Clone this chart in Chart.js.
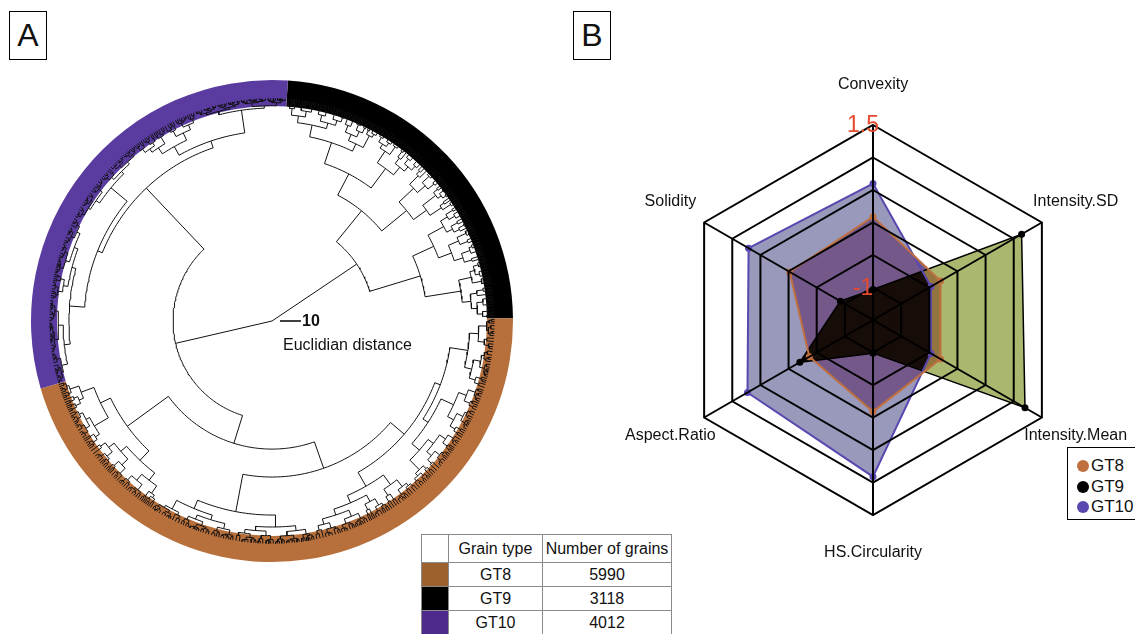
<!DOCTYPE html>
<html>
<head>
<meta charset="utf-8">
<title>Grain types: dendrogram and radar profile</title>
<script src="https://cdn.jsdelivr.net/npm/chart.js@4.4.0/dist/chart.umd.min.js"></script>
<style>
  html, body { margin: 0; padding: 0; background: #fff; width: 1135px; height: 634px; overflow: hidden;
    font-family: "Liberation Sans", Arial, Helvetica, sans-serif; color: #111; }
  canvas { position: absolute; }
  .tag { position: absolute; box-sizing: border-box; border: 1.5px solid #000; width: 38px; height: 49px;
    font-size: 32px; line-height: 46px; text-align: center; background: #fff; }
  .note { position: absolute; font-size: 16px; line-height: 18px; white-space: nowrap; }
  #counts { position: absolute; left: 421px; top: 534px; border-collapse: collapse; font-size: 16px; background: #fff; }
  #counts td { border: 1px solid #8a8a8a; text-align: center; padding: 0; height: 23px; line-height: 22px; }
  #counts tr:first-child td { height: 27px; }
  #legend { position: absolute; left: 1067px; top: 447px; width: 90px; height: 73px; box-sizing: border-box;
    border: 1px solid #000; background: #fff; padding-top: 8px; font-size: 17px; }
  #legend div { height: 20.5px; line-height: 20.5px; white-space: nowrap; }
  #legend span.dot { display: inline-block; width: 12px; height: 12px; border-radius: 50%; margin: 0 2px 0 9px;
    vertical-align: -1px; }
</style>
</head>
<body>
<canvas id="ring" width="500" height="500" style="left:22px;top:71px"></canvas>
<canvas id="tree" width="500" height="500" style="left:22px;top:71px"></canvas>
<canvas id="radar" width="535" height="634" style="left:600px;top:0px"></canvas>
<div class="tag" style="left:9px;top:11px">A</div>
<div class="tag" style="left:573px;top:11px">B</div>
<div class="note" style="left:302px;top:312px;font-weight:bold">10</div>
<div class="note" style="left:283px;top:336px">Euclidian distance</div>
<table id="counts"></table>
<div id="legend"></div>
<script>
// ---- grain type summary ----
const grainTypes  = ['GT8', 'GT9', 'GT10'];
const grainCounts = [5990, 3118, 4012];

// ---- radar profile (standardised feature means) ----
const featureNames = ['Convexity', 'Intensity.SD', 'Intensity.Mean', 'HS.Circularity', 'Aspect.Ratio', 'Solidity'];
const gt8Profile  = [0.09, -0.30, -0.30, -0.09, -0.37, -0.02];
const gt9Profile  = [-1.03, 1.14, 1.20, -0.99, -0.20, -0.92];
const gt10Profile = [0.60, -0.47, -0.47, 0.91, 0.73, 0.71];
const radarMin = -1.5, radarMax = 1.5, radarStep = 0.5;
const radarValueLabels = [1.5, -1];

// ---- dendrogram (Euclidean distance from root; terminal clusters = [distance, leaf count]) ----
const gt9Tree = [48.6,
  [67.6,
    [79.0,
      [89.5, [95.2, 583], [93.3, 364]],
      [90.5, [97.1, 255], [95.2, 255]]],
    [82.9, [92.4, 255], [90.5, 255]]],
  [73.8,
    [84.8, [93.3, 255], [91.4, 328]],
    [91.0, [97.1, 255], [95.2, 313]]]];
const gt8Tree = [61.0,
  [74.3,
    [82.9,
      [85.7, [94.3, 672], [88.6, [95.2, 510], [93.3, 620]]],
      [90.5, [96.2, 328], [94.3, 765]]],
    [92.4, [98.1, 765], [96.7, 838]]],
  [85.2, [91.4, 802], [90.5, 690]]];
const gt10Tree = [87.1,
  [89.5,
    [96.7, [99.5, 802], [98.6, 802]],
    [99.5, [101.5, 437], [101.0, 438]]],
  [90.5,
    [95.2, [98.6, 328], [99.0, 328]],
    [101.4, [103.0, 438], [102.5, 439]]]];
const rootSplits = [0, 47.1];        // root and the GT8+GT10 branch point
const leafDistance = 106;            // tree height
const scaleBarLength = 10;

// ---- colours ----
const ringColors   = { GT8: '#b7703c', GT9: '#000000', GT10: '#5a3ca0' };
const swatchColors = { GT8: '#9c612c', GT9: '#000000', GT10: '#4d2a8c' };
const lineColors   = { GT8: '#c0703f', GT9: '#000000', GT10: '#5a48b0' };
const fillColors   = { GT8: 'rgb(116,88,138)', GT9: 'rgb(169,184,110)', GT10: 'rgb(153,153,188)' };
const overlapDark  = 'rgb(22,12,8)';
const overlapBrown = 'rgb(146,116,62)';
const valueRed     = '#e64a2e';

Chart.defaults.font.family = '"Liberation Sans", Arial, Helvetica, sans-serif';

// ---------- panel A: coloured ring of grain types ----------
const ringOrder = ['GT9', 'GT8', 'GT10'];          // clockwise leaf order
const totalLeaves = grainCounts.reduce((a, b) => a + b, 0);
const ringStart = 3.8;                             // degrees clockwise from the top

new Chart(document.getElementById('ring'), {
  type: 'doughnut',
  data: {
    labels: ringOrder,
    datasets: [{
      data: ringOrder.map(g => grainCounts[grainTypes.indexOf(g)]),
      backgroundColor: ringOrder.map(g => ringColors[g]),
      borderWidth: 0
    }]
  },
  options: {
    responsive: false, animation: false, events: [],
    rotation: ringStart, radius: 241, cutout: 223,
    plugins: { legend: { display: false }, tooltip: { enabled: false } }
  }
});

// ---------- panel A: fan dendrogram ----------
const treePath = [];
function polar(pos, dist) {
  const t = (ringStart + pos / totalLeaves * 360) * Math.PI / 180;
  return { x: dist * Math.sin(t), y: dist * Math.cos(t) };
}
// radial to child a, arc at the node's distance, radial to child b
function bracket(dist, a, b) {
  treePath.push(polar(a.pos, a.dist));
  const span = Math.abs(b.pos - a.pos) / totalLeaves * 360;
  const n = Math.max(1, Math.ceil(span / 1.0));
  for (let i = 0; i <= n; i++) treePath.push(polar(a.pos + (b.pos - a.pos) * i / n, dist));
  treePath.push(polar(b.pos, b.dist));
  treePath.push({ x: null, y: null });
}
// unresolved leaves inside a terminal cluster
const leafGroup = 34;
const splitAt = [0.5, 0.36, 0.64, 0.44, 0.58, 0.3, 0.7, 0.47, 0.53];
const stepIn  = [0.3, 0.42, 0.25, 0.36, 0.5];
function leaves(p0, p1, dist, k) {
  if (p1 - p0 <= leafGroup) return { pos: (p0 + p1) / 2, dist: leafDistance };
  const s = p0 + (p1 - p0) * splitAt[k % splitAt.length];
  const dA = dist + (leafDistance - dist) * stepIn[k % stepIn.length];
  const dB = dist + (leafDistance - dist) * stepIn[(k + 2) % stepIn.length];
  const a = leaves(p0, s, dA, k + 1);
  const b = leaves(s, p1, dB, k + 3);
  bracket(dist, a, b);
  return { pos: (a.pos + b.pos) / 2, dist: dist };
}
function layout(node, p0) {
  if (!Array.isArray(node[1])) {
    const r = leaves(p0, p0 + node[1], node[0], Math.round(p0) % 7);
    return { pos: r.pos, dist: r.dist, end: p0 + node[1] };
  }
  const a = layout(node[1], p0);
  const b = layout(node[2], a.end);
  bracket(node[0], a, b);
  return { pos: (a.pos + b.pos) / 2, dist: node[0], end: b.end };
}
layout([rootSplits[0], gt9Tree, [rootSplits[1], gt8Tree, gt10Tree]], 0);

const treeHalf = 250 / 2.1;   // distance units across half the canvas
const scaleBar = [{ x: 3.8, y: 0 }, { x: 3.8 + scaleBarLength, y: 0 }];

new Chart(document.getElementById('tree'), {
  type: 'scatter',
  data: {
    datasets: [
      { data: treePath, showLine: true, spanGaps: false, borderColor: '#111', borderWidth: 1,
        pointRadius: 0, tension: 0 },
      { data: scaleBar, showLine: true, borderColor: '#000', borderWidth: 1.5, pointRadius: 0 }
    ]
  },
  options: {
    responsive: false, animation: false, events: [],
    layout: { padding: 0 },
    plugins: { legend: { display: false }, tooltip: { enabled: false } },
    scales: {
      x: { type: 'linear', display: false, min: -treeHalf, max: treeHalf },
      y: { type: 'linear', display: false, min: -treeHalf, max: treeHalf }
    }
  }
});

// ---------- panel A: counts table ----------
(function buildTable() {
  const t = document.getElementById('counts');
  let html = '<tr><td style="width:26px"></td><td style="width:93px">Grain type</td>' +
             '<td style="width:128px">Number of grains</td></tr>';
  grainTypes.forEach((g, i) => {
    html += '<tr><td style="background:' + swatchColors[g] + '"></td><td>' + g + '</td><td>' +
            grainCounts[i] + '</td></tr>';
  });
  t.innerHTML = html;
})();

// ---------- panel B: radar ----------
const FILL10 = 0, FILL8 = 1, FILL9 = 2;
const radarDecor = {
  id: 'radarDecor',
  afterDatasetDraw(chart, args) {
    if (args.index !== FILL9) return;
    const ctx = chart.ctx;
    const poly = i => chart.getDatasetMeta(i).data.map(p => [p.x, p.y]);
    const trace = pts => { ctx.beginPath(); pts.forEach(([x, y], k) => k ? ctx.lineTo(x, y) : ctx.moveTo(x, y)); ctx.closePath(); };
    const g9 = poly(FILL9);
    ctx.save(); trace(poly(FILL8)); ctx.clip(); trace(g9); ctx.fillStyle = overlapBrown; ctx.fill(); ctx.restore();
    ctx.save(); trace(poly(FILL10)); ctx.clip(); trace(g9); ctx.fillStyle = overlapDark; ctx.fill(); ctx.restore();
  },
  afterDraw(chart) {
    const s = chart.scales.r, ctx = chart.ctx;
    ctx.save();
    ctx.textAlign = 'center'; ctx.textBaseline = 'middle';
    ctx.font = '16px "Liberation Sans", Arial, sans-serif';
    ctx.fillStyle = '#111';
    featureNames.forEach((name, i) => {
      const p = s.getPointPosition(i, s.drawingArea * 1.2);
      ctx.fillText(name, p.x, p.y - 1);
    });
    ctx.font = '23px "Liberation Sans", Arial, sans-serif';
    ctx.fillStyle = valueRed;
    radarValueLabels.forEach(v => {
      const p = s.getPointPosition(0, s.getDistanceFromCenterForValue(v));
      ctx.fillText(String(v), p.x - 10, p.y + 1);
    });
    ctx.restore();
  }
};

const fillSet = (vals, color, order) => ({
  data: vals, backgroundColor: color, borderWidth: 0, pointRadius: 0, fill: 'start', order: order
});
const lineSet = (label, vals, color, width, order) => ({
  label: label, data: vals, borderColor: color, borderWidth: width, fill: false,
  pointRadius: 3.5, pointBackgroundColor: color, pointBorderWidth: 0, order: order
});

new Chart(document.getElementById('radar'), {
  type: 'radar',
  data: {
    labels: featureNames,
    datasets: [
      fillSet(gt10Profile, fillColors.GT10, 6),
      fillSet(gt8Profile, fillColors.GT8, 5),
      fillSet(gt9Profile, fillColors.GT9, 4),
      lineSet('GT9', gt9Profile, lineColors.GT9, 1.5, 3),
      lineSet('GT10', gt10Profile, lineColors.GT10, 2, 2),
      lineSet('GT8', gt8Profile, lineColors.GT8, 2, 1)
    ]
  },
  options: {
    responsive: false, animation: false, events: [],
    layout: { padding: { left: 78, top: 125, right: 67, bottom: 119 } },
    elements: { line: { tension: 0 } },
    plugins: { legend: { display: false }, tooltip: { enabled: false } },
    scales: {
      r: {
        min: radarMin, max: radarMax,
        ticks: { stepSize: radarStep, display: false, z: 1 },
        grid: { color: '#000', lineWidth: 2, circular: false, z: 1 },
        angleLines: { color: '#000', lineWidth: 2 },
        pointLabels: { display: false }
      }
    }
  },
  plugins: [radarDecor]
});

// ---------- panel B: legend ----------
(function buildLegend() {
  const box = document.getElementById('legend');
  box.innerHTML = grainTypes.map(g =>
    '<div><span class="dot" style="background:' + lineColors[g] + '"></span>' + g + '</div>').join('');
})();
</script>
</body>
</html>
